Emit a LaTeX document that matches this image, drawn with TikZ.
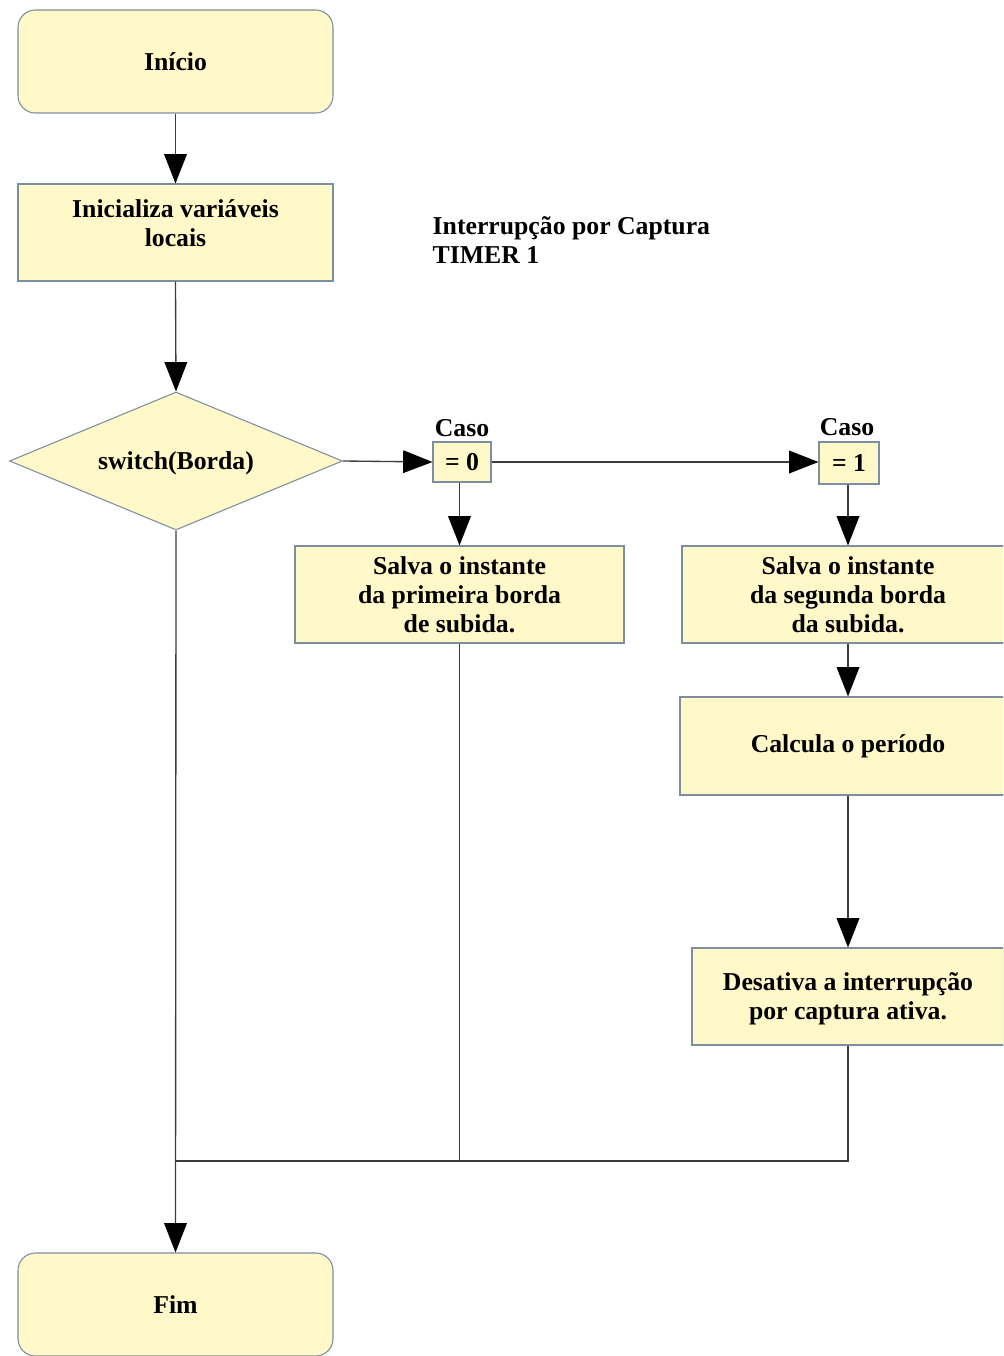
\documentclass[tikz,border=0pt]{standalone}
\usepackage{fontspec}
\newfontfamily\chartfont{Liberation Serif}
\usetikzlibrary{arrows.meta,shapes.geometric}
\definecolor{boxfill}{RGB}{255,248,200}
\definecolor{boxedge}{RGB}{125,142,163}
\definecolor{wire}{RGB}{60,60,60}
\begin{document}
\begin{tikzpicture}[x=0.75pt,y=-0.75pt,
  lbl/.style={font=\chartfont\bfseries\fontsize{19.3}{21.75}\selectfont, text=black},
  box/.style={lbl, draw=boxedge, fill=boxfill, line width=0.8pt, inner sep=0pt, align=center},
  term/.style={box, rectangle, rounded corners=13pt},
  decide/.style={box, diamond},
  flow/.style={draw=wire, line width=1pt},
  arrow/.style={flow, -{Triangle[length=22pt, width=17pt, color=black]}}
]
\useasboundingbox (0,0) rectangle (1003,1356);
\clip (0,0) rectangle (1003,1356);

% terminals and process boxes
\node[term, minimum width=315*0.75pt, minimum height=103*0.75pt] (start) at (175.5,61.5) {Início};
\node[box, minimum width=315*0.75pt, minimum height=97*0.75pt] (init) at (175.5,232.5) {};
\node[lbl, align=center] (inittext) at (175.5,223) {Inicializa variáveis\\locais};
\node[lbl, anchor=west, align=left] (title) at (428,240) {Interrupção por Captura\\TIMER 1};

% decision: empty diamond so that its size is set by the minimum sizes alone
\node[decide, minimum width=333*0.75pt, minimum height=138*0.75pt] (sw) at (176,461) {};
\node[lbl] (swtext) at (176,463) {switch(Borda)};

\node[box, minimum width=58*0.75pt, minimum height=40*0.75pt] (c0) at (462,462) {= 0};
\node[lbl, anchor=south] (k0) at (c0.north) {Caso};
\node[box, minimum width=60*0.75pt, minimum height=42*0.75pt] (c1) at (849,463) {= 1};
\node[lbl, anchor=south] (k1) at (847,440) {Caso};

\node[box, minimum width=329*0.75pt, minimum height=97*0.75pt] (s1) at (459.5,594.5) {Salva o instante\\da primeira borda\\de subida.};
\node[box, minimum width=332*0.75pt, minimum height=97*0.75pt] (s2) at (848,594.5) {Salva o instante\\da segunda borda\\da subida.};
\node[box, minimum width=336*0.75pt, minimum height=98*0.75pt] (calc) at (848,746) {Calcula o período};
\node[box, minimum width=312*0.75pt, minimum height=97*0.75pt] (des) at (848,996.5) {};
\node[lbl, align=center] (destext) at (848,999) {Desativa a interrupção\\por captura ativa.};

\node[term, minimum width=315*0.75pt, minimum height=103*0.75pt] (fim) at (175.5,1304.5) {Fim};

\coordinate (j) at (176,1161);

% connectors
\draw[arrow] (start.south) -- (init.north);
\draw[arrow] (init.south) -- (sw.north);
\draw[arrow] (sw.east) -- (c0.west);
\draw[arrow] (c0.east) -- (c0.east -| c1.west);
\draw[arrow] (c0.south -| s1.north) -- (s1.north);
\draw[arrow] (c1.south -| s2.north) -- (s2.north);
\draw[arrow] (s2.south) -- (calc.north);
\draw[arrow] (calc.south) -- (des.north);
\draw[flow] (des.south) |- (j);
\draw[flow] (s1.south) -- (s1.south |- j);
\draw[arrow] (sw.south) -- (fim.north);
\end{tikzpicture}
\end{document}
